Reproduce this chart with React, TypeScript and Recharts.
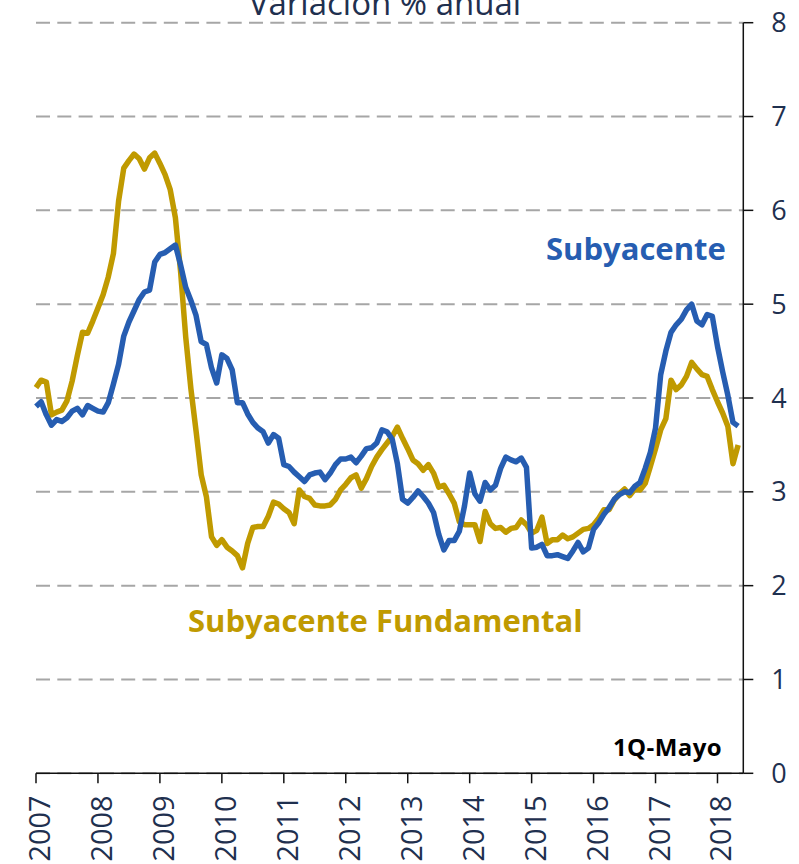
import { CartesianGrid, Line, LineChart, XAxis, YAxis } from "recharts";

// Inflación subyacente vs subyacente fundamental, variación % anual (mensual, ene-2007 a 1Q-may-2018)
const yearLabels = ["2007", "2008", "2009", "2010", "2011", "2012", "2013", "2014", "2015", "2016", "2017", "2018"];
const yTicks = [0, 1, 2, 3, 4, 5, 6, 7, 8];

const subyacente = [
  3.91, 3.96, 3.82, 3.71, 3.77, 3.75, 3.79, 3.86, 3.89, 3.82, 3.92, 3.89,
  3.86, 3.85, 3.95, 4.15, 4.36, 4.66, 4.81, 4.93, 5.05, 5.13, 5.15, 5.45,
  5.53, 5.55, 5.59, 5.63, 5.42, 5.18, 5.04, 4.88, 4.6, 4.57, 4.32, 4.16,
  4.46, 4.42, 4.3, 3.95, 3.95, 3.83, 3.74, 3.68, 3.64, 3.52, 3.61, 3.57,
  3.29, 3.27, 3.21, 3.16, 3.11, 3.18, 3.2, 3.21, 3.13, 3.2, 3.29, 3.35,
  3.35, 3.37, 3.31, 3.38, 3.46, 3.47, 3.52, 3.66, 3.64, 3.56, 3.3, 2.92,
  2.88, 2.94, 3.01, 2.95, 2.88, 2.78, 2.55, 2.38, 2.48, 2.48, 2.58, 2.85,
  3.2, 2.98, 2.9, 3.1, 3.02, 3.07, 3.25, 3.37, 3.34, 3.32, 3.36, 3.26,
  2.4, 2.41, 2.44, 2.32, 2.32, 2.33, 2.31, 2.29, 2.37, 2.46, 2.36, 2.4,
  2.6, 2.67, 2.76, 2.83, 2.92, 2.97, 3.0, 2.99, 3.06, 3.1, 3.25, 3.42,
  3.68, 4.25, 4.5, 4.7, 4.78, 4.84, 4.94, 5.0, 4.82, 4.78, 4.89, 4.87,
  4.55, 4.28, 4.03, 3.74, 3.7,
];

const fundamental = [
  4.11, 4.19, 4.17, 3.82, 3.85, 3.87, 3.97, 4.18, 4.45, 4.7, 4.69, 4.82,
  4.96, 5.1, 5.29, 5.54, 6.1, 6.45, 6.53, 6.6, 6.55, 6.44, 6.56, 6.61,
  6.5, 6.38, 6.22, 5.92, 5.35, 4.65, 4.1, 3.65, 3.18, 2.95, 2.52, 2.43,
  2.49, 2.41, 2.37, 2.32, 2.19, 2.45, 2.62, 2.63, 2.63, 2.74, 2.89, 2.87,
  2.82, 2.78, 2.66, 3.02, 2.95, 2.93, 2.86, 2.85, 2.85, 2.86, 2.92, 3.02,
  3.08, 3.15, 3.18, 3.04, 3.14, 3.27, 3.37, 3.45, 3.52, 3.59, 3.69, 3.57,
  3.46, 3.34, 3.3, 3.23, 3.29, 3.2, 3.05, 3.07, 2.98, 2.88, 2.68, 2.65,
  2.65, 2.65, 2.47, 2.79, 2.66, 2.61, 2.62, 2.57, 2.61, 2.62, 2.7, 2.65,
  2.56, 2.59, 2.73, 2.45, 2.49, 2.49, 2.54, 2.5, 2.52, 2.56, 2.6, 2.61,
  2.65, 2.72, 2.81, 2.81, 2.91, 2.98, 3.03, 2.96, 3.03, 3.02, 3.09, 3.27,
  3.46, 3.66, 3.78, 4.19, 4.09, 4.14, 4.23, 4.38, 4.31, 4.25, 4.23, 4.09,
  3.96, 3.84, 3.7, 3.3, 3.5,
];

const BLUE = "#265db1";
const GOLD = "#c09a00";
const NAVY = "#1f304f";
const FONT = "'Open Sans', sans-serif";

const data = subyacente.map((v, i) => ({ month: i, subyacente: v, fundamental: fundamental[i] }));
const yearTicks = yearLabels.map((_, i) => i * 12);

const YearTick = (props: any) => {
  const { x, y, payload } = props;
  return (
    <text
      x={x}
      y={y}
      dy={14}
      transform={`rotate(-90 ${x} ${y})`}
      textAnchor="end"
      fill={NAVY}
      fontSize={29}
      fontFamily={FONT}
    >
      {yearLabels[payload.value / 12]}
    </text>
  );
};

export default function App() {
  return (
    <div style={{ position: "absolute", left: 0, top: 0, width: 799, height: 864 }}>
      <LineChart width={799} height={864} data={data} margin={{ top: 22.7, right: 0, bottom: 0, left: 36 }}>
        <CartesianGrid vertical={false} stroke="#a6a6a6" strokeWidth={2} strokeDasharray="14 7.3" />
        <XAxis
          dataKey="month"
          type="number"
          domain={[0, 137]}
          ticks={yearTicks}
          interval={0}
          height={90.7}
          tick={<YearTick />}
          tickSize={10}
          tickMargin={12}
          axisLine={{ stroke: "#111", strokeWidth: 1.5 }}
          tickLine={{ stroke: "#111", strokeWidth: 1.5 }}
        />
        <YAxis
          orientation="right"
          domain={[0, 8]}
          ticks={yTicks}
          interval={0}
          width={55.7}
          tickSize={10}
          tickMargin={18}
          tick={{ fill: NAVY, fontSize: 27, fontFamily: FONT }}
          axisLine={{ stroke: "#111", strokeWidth: 1.5 }}
          tickLine={{ stroke: "#111", strokeWidth: 1.5 }}
        />
        <Line
          type="linear"
          dataKey="fundamental"
          stroke={GOLD}
          strokeWidth={5.5}
          strokeLinejoin="round"
          dot={false}
          isAnimationActive={false}
        />
        <Line
          type="linear"
          dataKey="subyacente"
          stroke={BLUE}
          strokeWidth={5.5}
          strokeLinejoin="round"
          dot={false}
          isAnimationActive={false}
        />
      </LineChart>
      <svg width={799} height={864} style={{ position: "absolute", left: 0, top: 0, pointerEvents: "none" }}>
        <text x={385} y={15} textAnchor="middle" fill={NAVY} fontSize={33} fontFamily={FONT}>
          Variación % anual
        </text>
        <text x={546} y={260} fill={BLUE} fontSize={31} fontWeight="bold" fontFamily={FONT}>
          Subyacente
        </text>
        <text x={188} y={632} fill={GOLD} fontSize={31} fontWeight="bold" fontFamily={FONT}>
          Subyacente Fundamental
        </text>
        <text x={613} y={756} fill="#000" fontSize={24} fontWeight="bold" fontFamily={FONT} letterSpacing={0.4}>
          1Q-Mayo
        </text>
      </svg>
    </div>
  );
}
